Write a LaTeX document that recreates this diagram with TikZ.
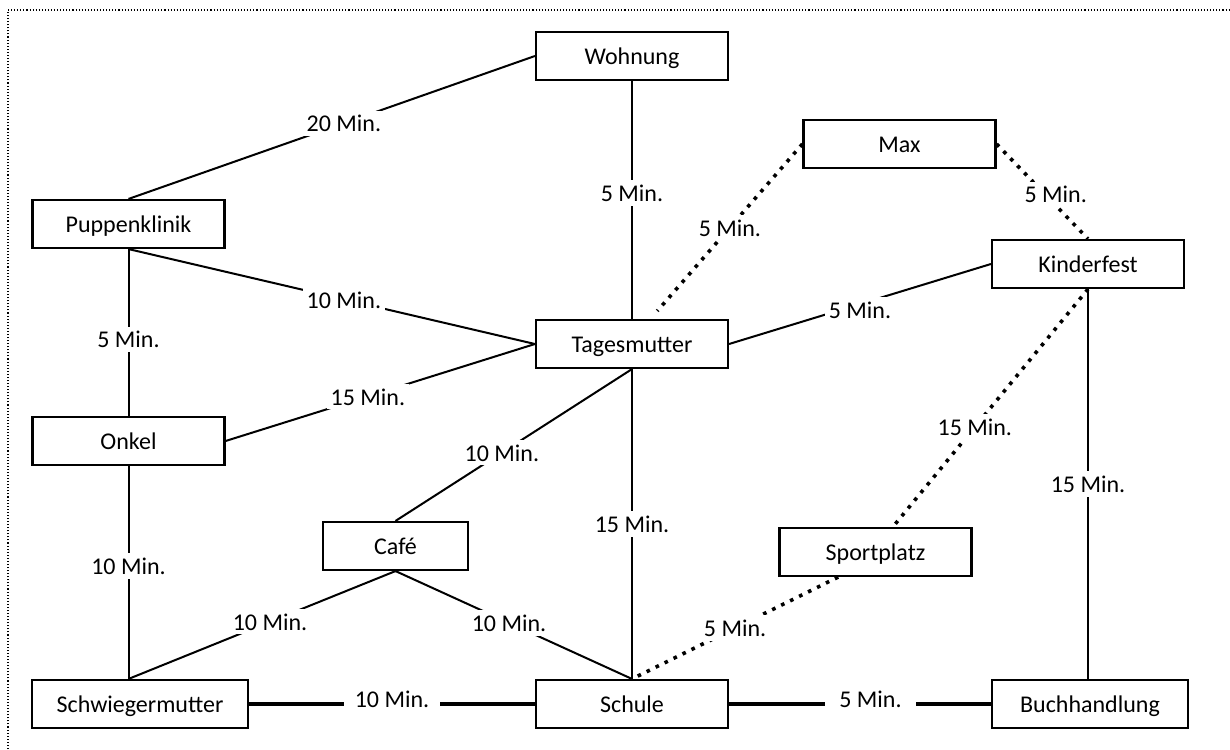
\documentclass[tikz,border=0pt]{standalone}
\usepackage{fontspec}
\setmainfont{Carlito}

\begin{document}
\begin{tikzpicture}[x=0.75pt,y=-0.75pt,
		ort/.style={draw,line width=1.6pt,minimum width=144pt,minimum height=36pt,inner sep=0pt,text height=15pt,text depth=2pt,font=\fontsize{18}{21}\selectfont},
		weg/.style={line width=1.5pt},
		dickweg/.style={line width=2.3pt},
		punktweg/.style={line width=2.7pt,dash pattern=on 2.7pt off 4.8pt},
		zeit/.style={fill=white,inner xsep=3pt,inner ysep=1pt,text height=15pt,text depth=2pt,font=\fontsize{18}{21}\selectfont}]
		\useasboundingbox (0,0) rectangle (1230,749);
		\draw[line width=0.8pt,dash pattern=on 0.8pt off 1.5pt] (8,749) -- (8,10) -- (1230,10);

		%Orte
		\node[ort] (wohnung) at (632,56) {Wohnung};
		\node[ort] (max) at (899.5,144) {Max};
		\node[ort] (puppen) at (128.5,224) {Puppenklinik};
		\node[ort] (kinder) at (1088,264) {Kinderfest};
		\node[ort] (tages) at (632,344) {Tagesmutter};
		\node[ort] (onkel) at (128.5,441) {Onkel};
		\node[ort,minimum width=108.75pt] (cafe) at (395.5,546) {Café};
		\node[ort] (sport) at (875.5,552) {Sportplatz};
		\node[ort,minimum width=162pt] (schwieger) at (140,704) {Schwiegermutter};
		\node[ort] (schule) at (632,704) {Schule};
		\node[ort,minimum width=147pt] (buch) at (1090,704) {Buchhandlung};
		\coordinate (swtop) at (onkel.south |- schwieger.north);

		%Wege oben
		\draw[weg] (wohnung.west) -- node[zeit,pos=.47]{20 Min.} (puppen.north);
		\draw[weg] (wohnung.south) -- node[zeit,pos=.47]{5 Min.} (tages.north);
		\draw[punktweg] (max.west) -- node[zeit,pos=.5]{5 Min.} ([xshift=19pt,yshift=6pt]tages.north);
		\draw[punktweg] (max.east) -- node[zeit,pos=.53,xshift=8pt]{5 Min.} (kinder.north);
		%Wege Mitte
		\draw[weg] (puppen.south) -- node[zeit,pos=.53]{10 Min.} (tages.west);
		\draw[weg] (puppen.south) -- node[zeit,pos=.54]{5 Min.} (onkel.north);
		\draw[weg] (kinder.west) -- node[zeit,pos=.5,yshift=-4pt]{5 Min.} (tages.east);
		\draw[weg] (onkel.east) -- node[zeit,pos=.46]{15 Min.} (tages.west);
		\draw[weg] (tages.south) -- node[zeit,pos=.55]{10 Min.} (cafe.north);
		\draw[weg] (tages.south) -- node[zeit,pos=.5]{15 Min.} (schule.north);
		\draw[punktweg] (kinder.south) -- node[zeit,pos=.58]{15 Min.} ([xshift=13pt]sport.north);
		\draw[weg] (kinder.south) -- node[zeit,pos=.5]{15 Min.} (kinder.south |- buch.north);
		%Wege unten
		\draw[weg] (onkel.south) -- node[zeit,pos=.47]{10 Min.} (swtop);
		\draw[weg] (cafe.south) -- node[zeit,pos=.47]{10 Min.} (swtop);
		\draw[weg] (cafe.south) -- node[zeit,pos=.48]{10 Min.} (schule.north);
		\draw[punktweg] ([xshift=-28pt]sport.south) -- node[zeit,pos=.5]{5 Min.} (schule.north);
		\draw[dickweg] (schwieger.east) -- node[zeit,pos=.5,yshift=4pt,inner xsep=8pt]{10 Min.} (schule.west);
		\draw[dickweg] (schule.east) -- node[zeit,pos=.54,yshift=4pt,inner xsep=11pt]{5 Min.} (buch.west);
	\end{tikzpicture}
\end{document}
